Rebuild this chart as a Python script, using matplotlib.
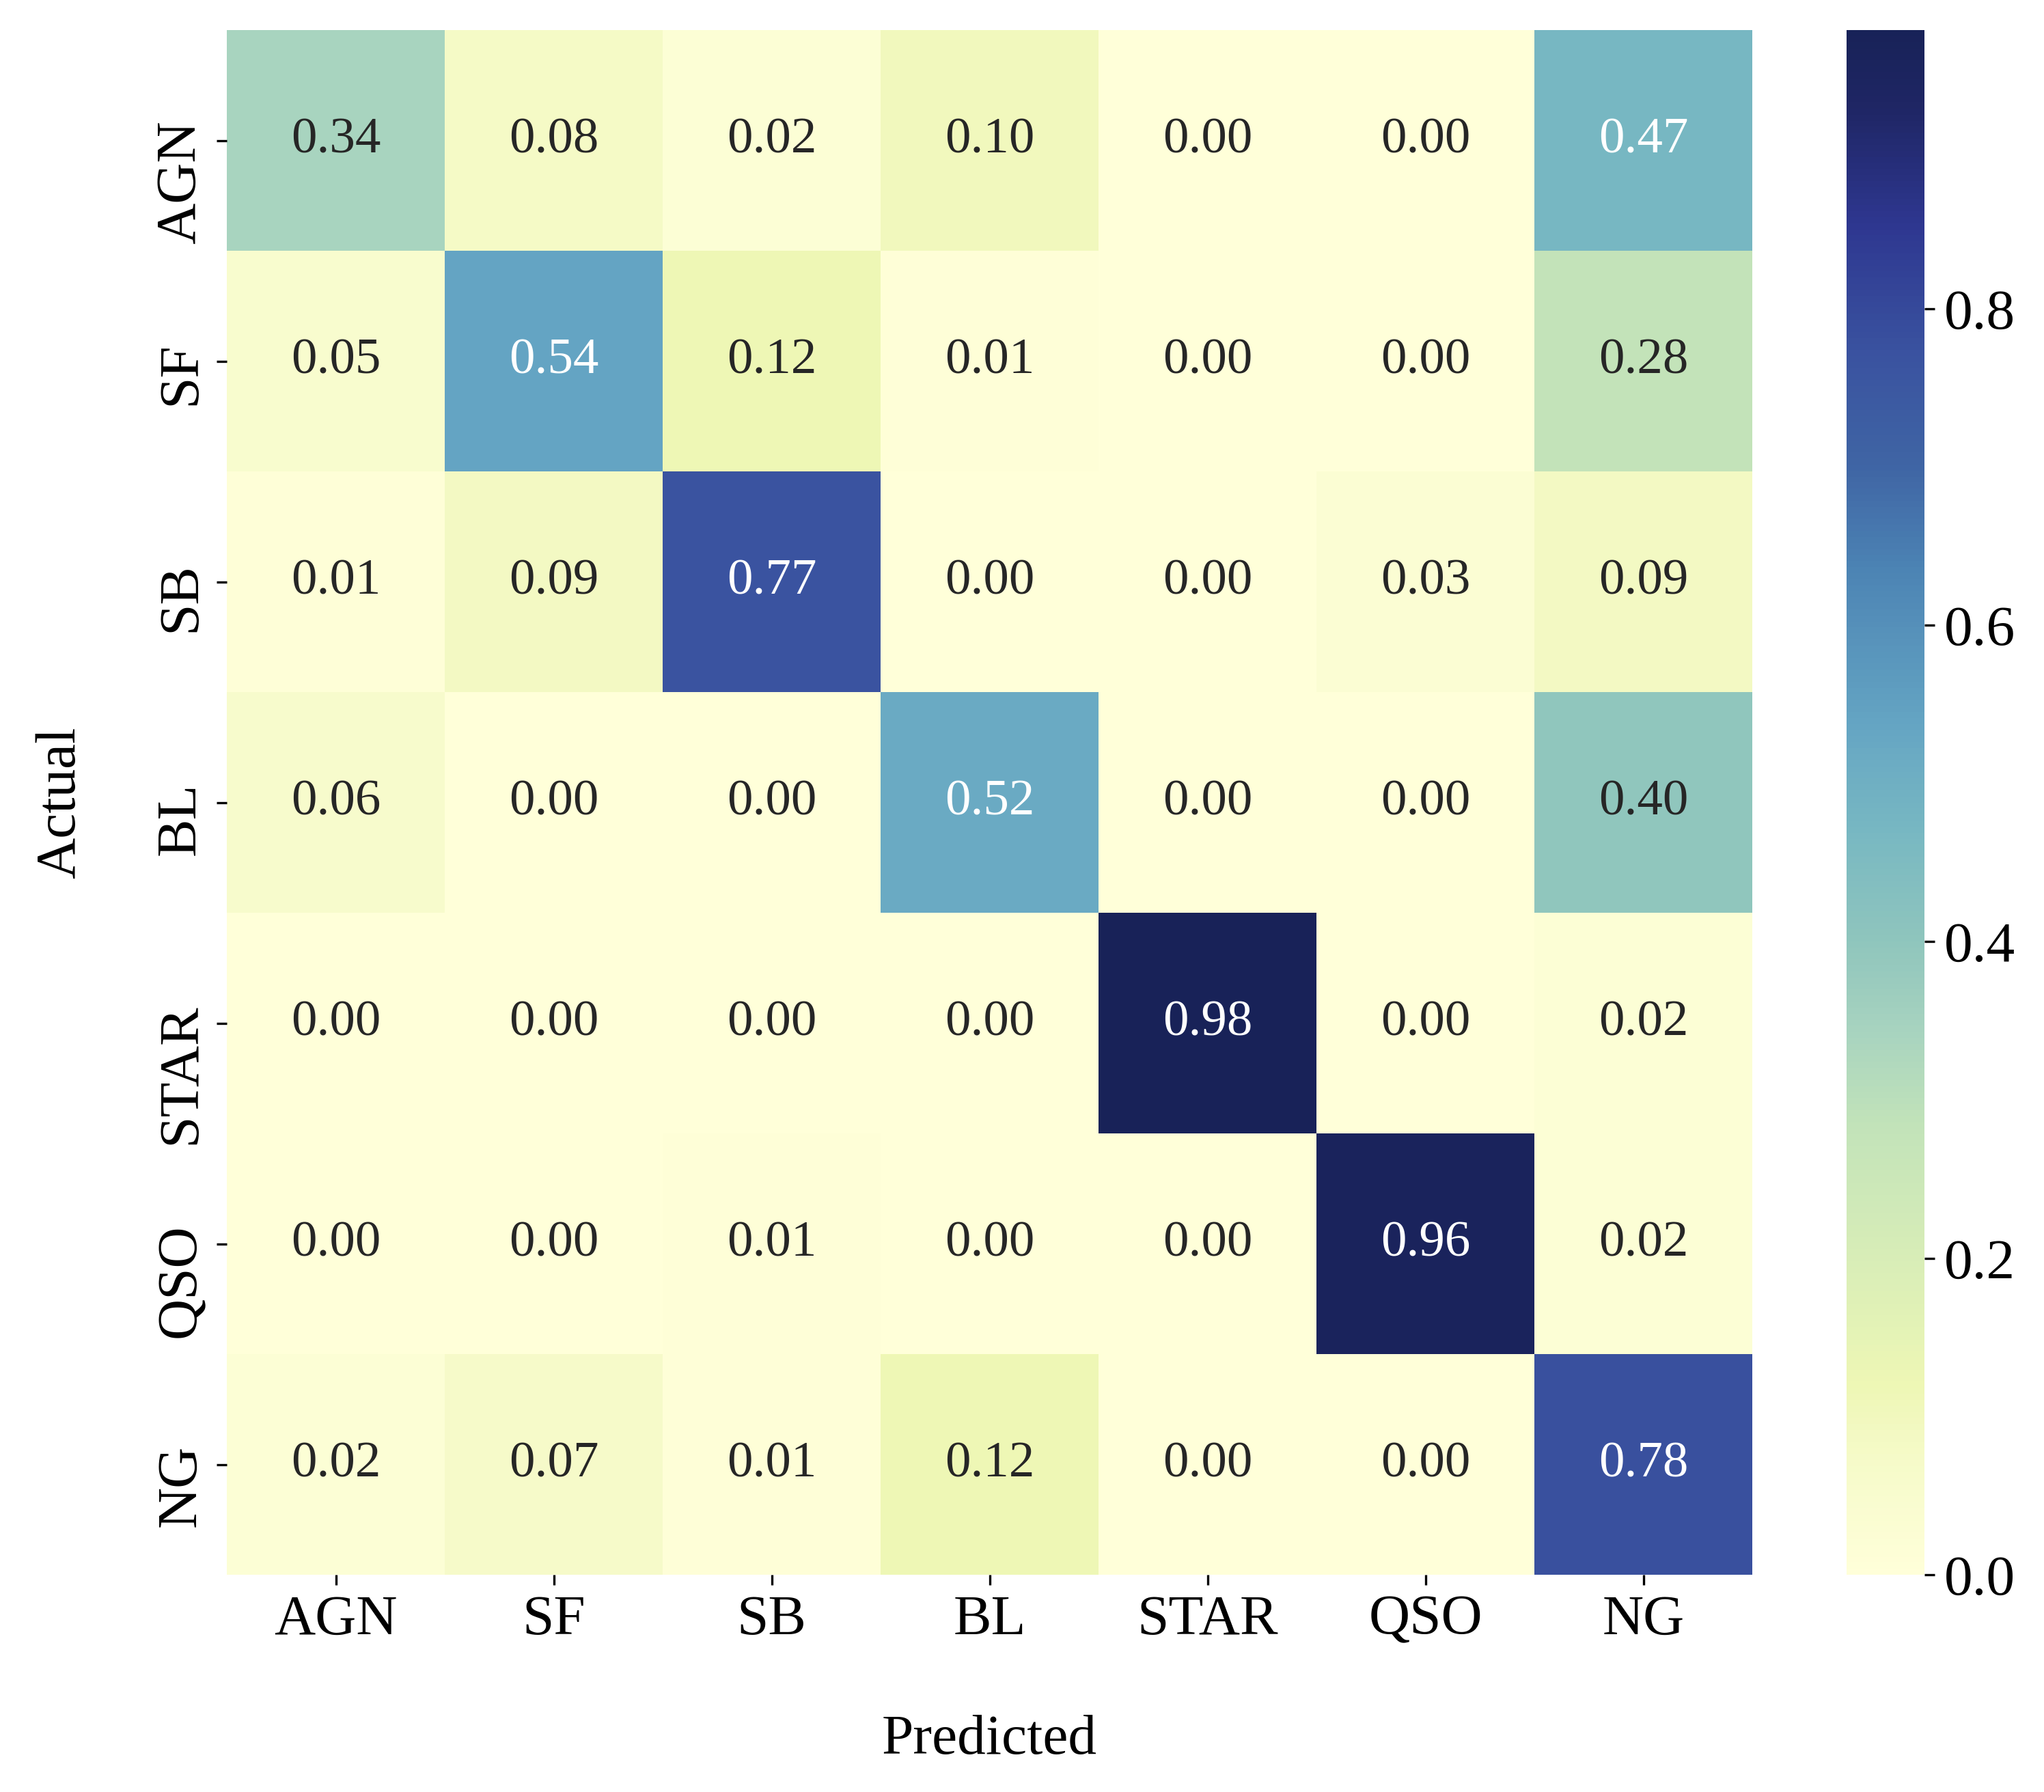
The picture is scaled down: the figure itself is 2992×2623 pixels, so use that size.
import matplotlib

matplotlib.use("Agg")
import matplotlib.pyplot as plt  # noqa: E402
import numpy as np  # noqa: E402
import seaborn as sns  # noqa: E402
from matplotlib.colors import LinearSegmentedColormap  # noqa: E402

plt.rcParams["font.family"] = ["Liberation Serif", "DejaVu Serif"]

classes = ["AGN", "SF", "SB", "BL", "STAR", "QSO", "NG"]

# rows = actual class, columns = predicted class
row_agn = [0.34, 0.08, 0.02, 0.10, 0.00, 0.00, 0.47]
row_sf = [0.05, 0.54, 0.12, 0.01, 0.00, 0.00, 0.28]
row_sb = [0.01, 0.09, 0.77, 0.00, 0.00, 0.03, 0.09]
row_bl = [0.06, 0.00, 0.00, 0.52, 0.00, 0.00, 0.40]
row_star = [0.00, 0.00, 0.00, 0.00, 0.976, 0.00, 0.02]
row_qso = [0.00, 0.00, 0.01, 0.00, 0.00, 0.96, 0.02]
row_ng = [0.02, 0.07, 0.01, 0.12, 0.00, 0.00, 0.78]

cm = np.array([row_agn, row_sf, row_sb, row_bl, row_star, row_qso, row_ng])

# muted YlGnBu, as it looks in the original figure
_STOPS = [
    (0.00, "#ffffd9"), (0.06, "#f7fbcc"), (0.09, "#f3f9c3"),
    (0.12, "#eef7b5"), (0.29, "#c2e3b9"), (0.35, "#a8d4bf"),
    (0.41, "#8fc5bd"), (0.48, "#78b8c2"), (0.55, "#65a5c3"),
    (0.65, "#4c84b4"), (0.72, "#3f64a4"), (0.79, "#3a53a0"),
    (0.875, "#2e3790"), (0.95, "#1f2665"), (1.00, "#182258"),
]
cmap = LinearSegmentedColormap.from_list("ylgnbu_muted", _STOPS)

fig = plt.figure(figsize=(2992 / 300, 2623 / 300), dpi=300)
ax = fig.add_axes([0.111, 0.1212, 0.7463, 0.862])
cax = fig.add_axes([0.9034, 0.1212, 0.0381, 0.862])

sns.heatmap(cm, ax=ax, cbar_ax=cax, cmap=cmap, annot=True, fmt=".2f",
            annot_kws={"fontsize": 18}, xticklabels=classes,
            yticklabels=classes)

# text colour switch as in the original (white from ~0.45 up)
for txt, v in zip(ax.texts, cm.ravel()):
    txt.set_color("white" if v > 0.45 else "#262626")

ax.set_xlabel("Predicted", fontsize=20, labelpad=24)
ax.set_ylabel("Actual", fontsize=20, labelpad=24)
ax.tick_params(axis="both", labelsize=20)
ax.set_yticklabels(classes, rotation=90, va="center_baseline")
ax.set_xticklabels(classes, rotation=0)

cax.tick_params(labelsize=20)
cax.set_yticks([0.0, 0.2, 0.4, 0.6, 0.8])

fig.savefig("out.png", dpi=300, facecolor="white")
plt.close(fig)
